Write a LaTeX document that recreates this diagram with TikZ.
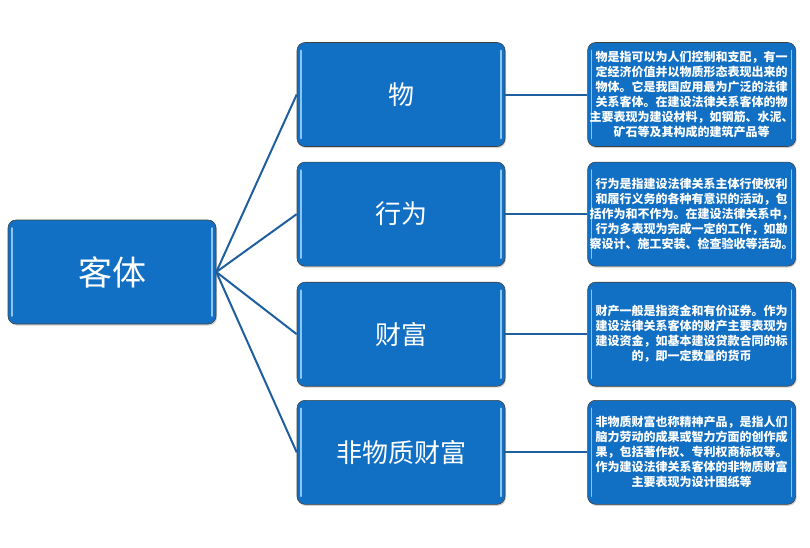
\documentclass[tikz,border=0pt]{standalone}
\usepackage{fontspec}
\newfontfamily\cjk{Noto Sans CJK SC}
\usepackage{tikz}
\usetikzlibrary{positioning, shadows}

\definecolor{boxblue}{HTML}{1170C4}
\definecolor{lineblue}{HTML}{1F5F9F}
\definecolor{glossblue}{HTML}{8CC4F2}

\begin{document}
\begin{tikzpicture}[
    x=1pt, y=-1pt,
    node distance=15pt and 81pt,
    every node/.style={font=\cjk},
    glossbox/.style={
        draw=black!75,
        line width=0.6pt,
        fill=boxblue,
        rounded corners=8pt,
        minimum width=208pt,
        minimum height=104pt,
        inner sep=2pt,
        text=white,
        drop shadow={shadow xshift=1pt, shadow yshift=-1.5pt, opacity=0.35},
        path picture={
            \draw[glossblue, line width=1.6pt, line cap=round]
                ([xshift=4pt, yshift=-8pt]path picture bounding box.north west) --
                ([xshift=4pt, yshift=8pt]path picture bounding box.south west);
            \draw[glossblue, line width=1.6pt, line cap=round]
                ([xshift=-4pt, yshift=-8pt]path picture bounding box.north east) --
                ([xshift=-4pt, yshift=8pt]path picture bounding box.south east);
        }
    },
    rootbox/.style={glossbox, font=\cjk\fontsize{34}{40}\selectfont},
    keybox/.style={glossbox, font=\cjk\fontsize{26}{30}\selectfont},
    notebox/.style={glossbox, align=center, text width=204pt,
        font=\cjk\bfseries\fontsize{12}{15}\selectfont},
    link/.style={draw=lineblue, line width=2pt}
]
\useasboundingbox (0,0) rectangle (810,547);

% ---------------- ROOT ----------------
\node[rootbox] (KT) at (112,272)             {客体};

% ---------------- KINDS ----------------
\node[keybox]  (WU) at (401,94.5)            {物};
\node[keybox]  (XW) [below=15pt   of WU]     {行为};
\node[keybox]  (CF) [below=15.5pt of XW]     {财富};
\node[keybox]  (FW) [below=13.5pt of CF]     {非物质财富};

% ---------------- NOTES ----------------
\node[notebox] (WUn) [right=82pt of WU] {物是指可以为人们控制和支配，有一\\定经济价值并以物质形态表现出来的\\物体。它是我国应用最为广泛的法律\\关系客体。在建设法律关系客体的物\\主要表现为建设材料，如钢筋、水泥、\\矿石等及其构成的建筑产品等};
\node[notebox] (XWn) [right=82pt of XW] {行为是指建设法律关系主体行使权利\\和履行义务的各种有意识的活动，包\\括作为和不作为。在建设法律关系中，\\行为多表现为完成一定的工作，如勘\\察设计、施工安装、检查验收等活动。};
\node[notebox] (CFn) [right=82pt of CF] {财产一般是指资金和有价证券。作为\\建设法律关系客体的财产主要表现为\\建设资金，如基本建设贷款合同的标\\的，即一定数量的货币};
\node[notebox] (FWn) [right=82pt of FW] {非物质财富也称精神产品，是指人们\\脑力劳动的成果或智力方面的创作成\\果，包括著作权、专利权商标权等。\\作为建设法律关系客体的非物质财富\\主要表现为设计图纸等};

% Root to kinds:
\foreach \k in {WU, XW, CF, FW}
    \draw[link] (KT.east) -- (\k.west);

% Kinds to notes:
\foreach \k in {WU, XW, CF, FW}
    \draw[link] (\k.east) -- (\k n.west);

\end{tikzpicture}
\end{document}
